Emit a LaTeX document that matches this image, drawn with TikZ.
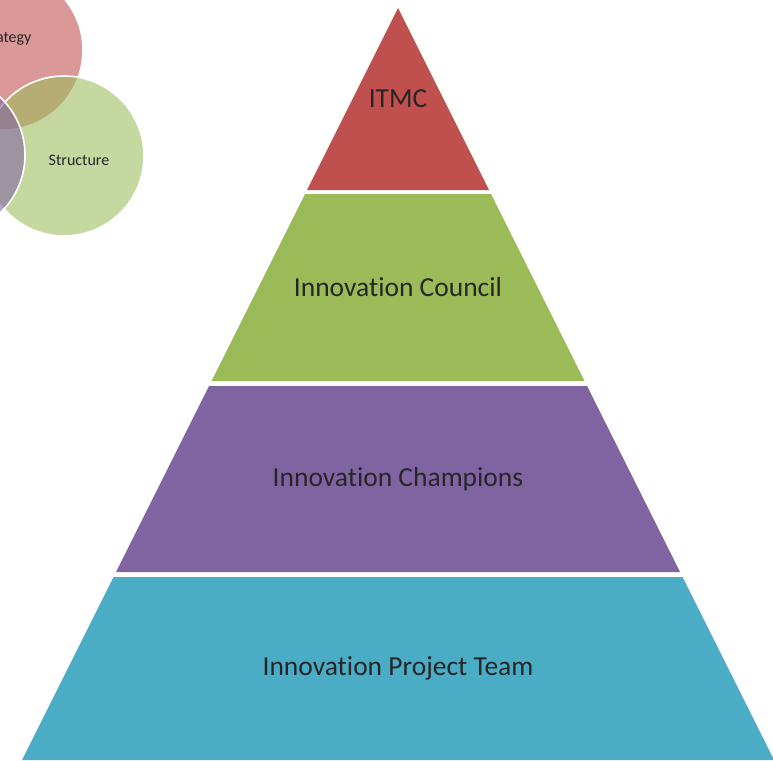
\documentclass[tikz,border=0pt]{standalone}
\usepackage{fontspec}
\setmainfont{Carlito}[Ligatures=NoCommon]
\usetikzlibrary{calc}
\definecolor{itmcred}{HTML}{C0504D}
\definecolor{councilgreen}{HTML}{9BBB59}
\definecolor{champpurple}{HTML}{8064A2}
\definecolor{teamteal}{HTML}{4BACC6}
\definecolor{labelgray}{HTML}{262626}
\newcommand{\drawvenn}[3]{
  \filldraw[venn, fill=#3] (#1, #2) circle (80pt);
}

\begin{document}
\begin{tikzpicture}[x=1pt, y=-1pt,
    venn/.style={draw=white, line width=1.6pt, fill opacity=.58},
    layerlabel/.style={text=labelgray, font=\fontsize{27.5}{33}\selectfont},
    vennlabel/.style={text=labelgray, font=\fontsize{16}{19}\selectfont}
  ]
  \useasboundingbox (0, 0) rectangle (773, 760);
  \clip (0, 0) rectangle (773, 760);
  % Apex of the pyramid and how far the sides spread per unit of height
  \pgfmathsetmacro{\apexx}{398}
  \pgfmathsetmacro{\apexy}{8}
  \pgfmathsetmacro{\slope}{.5}

  % Venn circles in the corner, drawn in this order so that each outline
  % lies over the one before
  \drawvenn{3}{50}{itmcred}
  \drawvenn{64}{156}{councilgreen}
  \drawvenn{-55}{155}{champpurple}
  \node[vennlabel, anchor=east] (strategy) at (35, 39) {Strategy};
  \node[vennlabel] (structure) at (79, 160) {Structure};

  % The layers of the pyramid, from the top down, with a thin gap between
  \foreach \ytop/\ybot/\fillcol/\layername/\layertext in {
      8/190/itmcred/itmc/ITMC,
      194/381/councilgreen/council/Innovation Council,
      386/572/champpurple/champions/Innovation Champions,
      577/760/teamteal/team/Innovation Project Team} {
    \pgfmathsetmacro{\tophalf}{\slope*(\ytop-\apexy)}
    \pgfmathsetmacro{\bothalf}{\slope*(\ybot-\apexy)}
    \fill[\fillcol] (\apexx-\tophalf, \ytop) -- (\apexx+\tophalf, \ytop)
      -- (\apexx+\bothalf, \ybot) -- (\apexx-\bothalf, \ybot) -- cycle;
    \node[layerlabel] (\layername) at (\apexx, {(\ytop+\ybot)/2}) {\layertext};
  }
\end{tikzpicture}
\end{document}
